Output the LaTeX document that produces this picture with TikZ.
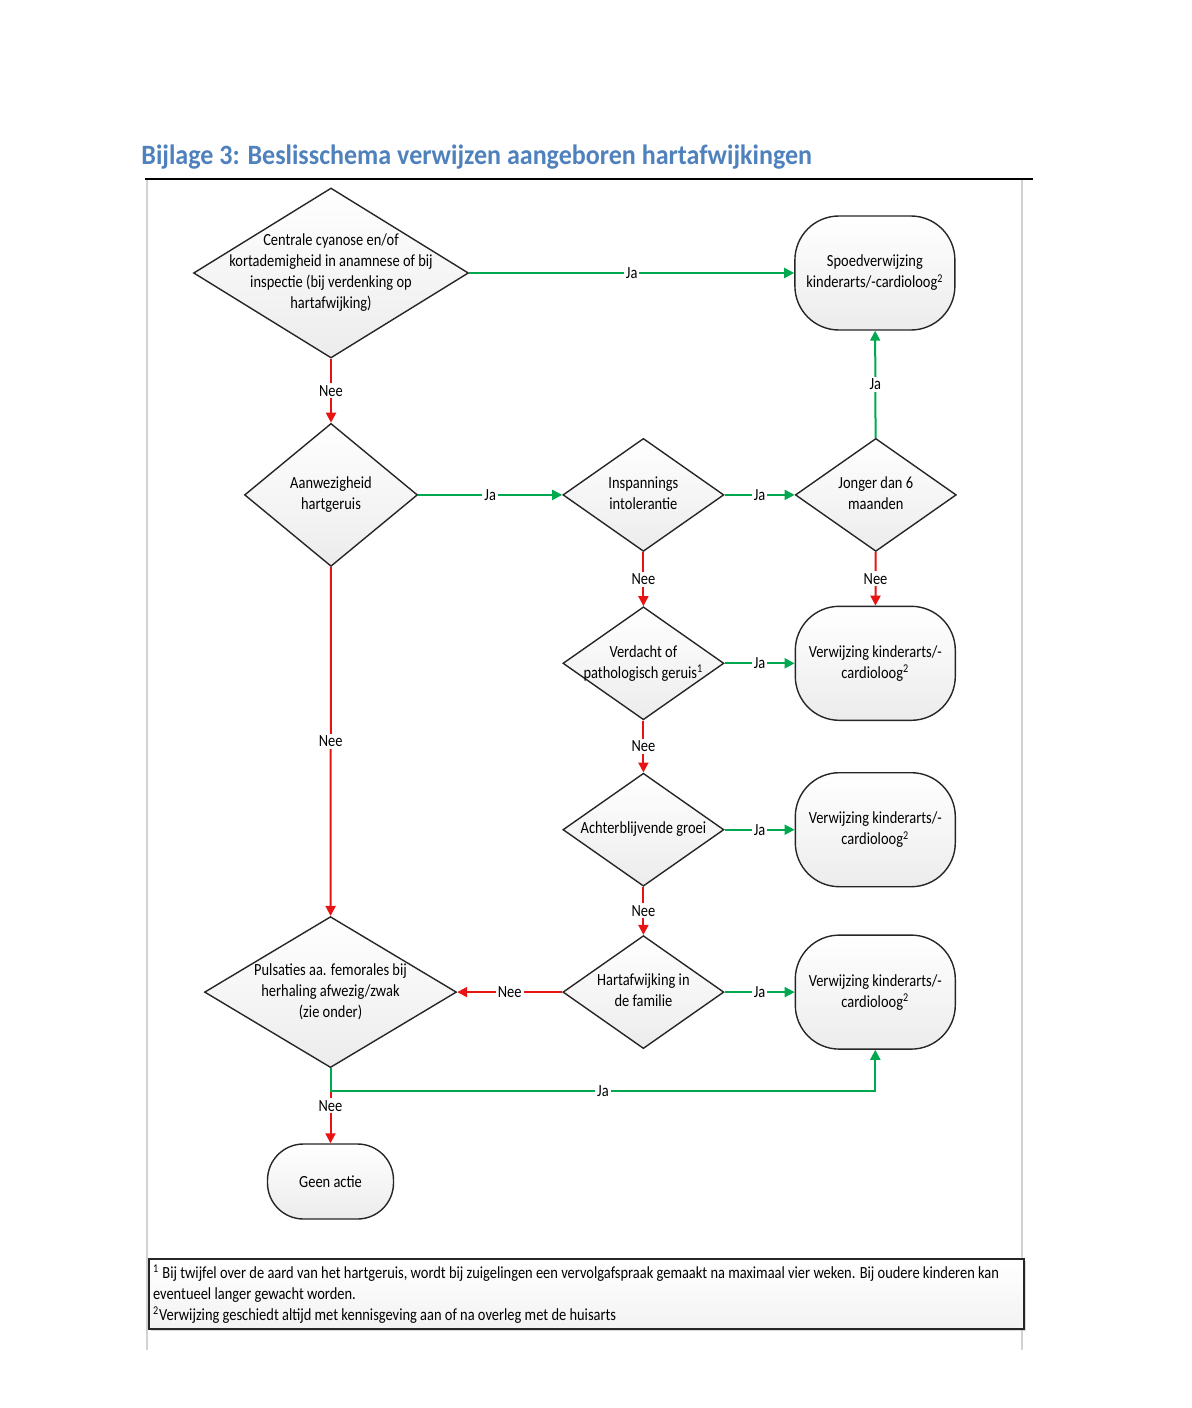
\documentclass[tikz,border=0pt]{standalone}
\usepackage{fontspec}
\setmainfont{Carlito}[FakeStretch=0.85]
\newfontfamily\titelfont{Carlito}[FakeStretch=0.93]
\usetikzlibrary{shapes.geometric,positioning,arrows.meta,shadows}
\definecolor{jagreen}{RGB}{0,168,80}
\definecolor{neered}{RGB}{232,20,20}
\definecolor{titleblue}{RGB}{79,129,189}
\newcommand{\dtekst}[1]{\makebox[0pt]{\begin{tabular}{@{}c@{}}#1\end{tabular}}}

\begin{document}
\begin{tikzpicture}[x = 0.5pt, y = -0.5pt,
        every node/.style = {font = \fontsize{8.5}{10.5}\selectfont},
        keuze/.style = {diamond, draw = gray!30!black, line width = 0.7pt, top color = white, bottom color = gray!15, inner sep = 0pt},
        klein/.style = {minimum width = 80.5pt, minimum height = 56.5pt},
        eind/.style = {rectangle, draw = gray!30!black, line width = 0.7pt, rounded corners = 22pt, minimum width = 80pt, minimum height = 57pt, align = center, top color = white, bottom color = gray!15, inner sep = 1pt},
        lab/.style = {fill = white, inner sep = 1pt},
        ja/.style = {draw = jagreen, line width = 1pt},
        nee/.style = {draw = neered, line width = 1pt},
        > = {Triangle[length = 5pt, width = 5pt]}]
        \useasboundingbox (0,0) rectangle (1191,1408);

        % kader
        \draw [gray!35, line width = 0.7pt] (147,180) -- (147,1350);
        \draw [gray!35, line width = 0.7pt] (1022,180) -- (1022,1350);
        \draw [black, line width = 1.2pt] (145,179) -- (1033,179);
        \node [anchor = west, inner sep = 0pt, text = titleblue, font = \fontsize{14}{16}\titelfont\bfseries] (titel) at (141,157) {Bijlage 3: Beslisschema verwijzen aangeboren hartafwijkingen};

        \node [keuze, minimum width = 137.5pt, minimum height = 85pt] (cyan) at (331,273) {\dtekst{Centrale cyanose en/of\\kortademigheid in anamnese of bij\\inspectie (bij verdenking op\\hartafwijking)}};
        \node [eind] (spoed) [right = 162.5pt of cyan] {Spoedverwijzing\\kinderarts/-cardioloog\textsuperscript{2}};
        \node [keuze, minimum width = 86.5pt, minimum height = 71.5pt] (geruis) [below = 32pt of cyan] {\dtekst{Aanwezigheid\\hartgeruis}};
        \node [keuze, klein] (inspan) [right = 72pt of geruis] {\dtekst{Inspannings\\intolerantie}};
        \node [keuze, klein] (jonger) [right = 35pt of inspan] {\dtekst{Jonger dan 6\\maanden}};
        \node [keuze, klein] (patho) [below = 27pt of inspan] {\dtekst{Verdacht of\\pathologisch geruis\textsuperscript{1}}};
        \node [eind] (verw1) [right = 35pt of patho] {Verwijzing kinderarts/-\\cardioloog\textsuperscript{2}};
        \node [keuze, klein] (groei) [below = 26pt of patho] {\dtekst{Achterblijvende groei}};
        \node [eind] (verw2) [right = 35pt of groei] {Verwijzing kinderarts/-\\cardioloog\textsuperscript{2}};
        \node [keuze, klein] (familie) [below = 24pt of groei] {\dtekst{Hartafwijking in\\de familie}};
        \node [eind] (verw3) [right = 35pt of familie] {Verwijzing kinderarts/-\\cardioloog\textsuperscript{2}};
        \node [keuze, minimum width = 126pt, minimum height = 75.5pt] (pulsatie) [left = 52.5pt of familie] {\dtekst{Pulsaties aa. femorales bij\\herhaling afwezig/zwak\\(zie onder)}};
        \node [eind, minimum width = 63pt, minimum height = 37.5pt, rounded corners = 18pt] (geen) [below = 37.5pt of pulsatie] {Geen actie};
        \coordinate (hoek) at ([yshift = -11.5pt] pulsatie.south);

        \path[->]
            (cyan) edge [ja] node [lab] {Ja} (spoed)
                edge [nee] node [lab] {Nee} (geruis)
            (geruis) edge [ja] node [lab] {Ja} (inspan)
                edge [nee] node [lab] {Nee} (pulsatie)
            (inspan) edge [ja] node [lab] {Ja} (jonger)
                edge [nee] node [lab] {Nee} (patho)
            (jonger) edge [ja] node [lab] {Ja} (spoed)
                edge [nee] node [lab] {Nee} (verw1)
            (patho) edge [ja] node [lab] {Ja} (verw1)
                edge [nee] node [lab] {Nee} (groei)
            (groei) edge [ja] node [lab] {Ja} (verw2)
                edge [nee] node [lab] {Nee} (familie)
            (familie) edge [ja] node [lab] {Ja} (verw3)
                edge [nee] node [lab] {Nee} (pulsatie)
            (pulsatie) edge [nee] node [lab] {Nee} (geen);
        \draw [ja, ->] (pulsatie.south) -- (hoek) -| node [lab, pos = 0.25] {Ja} (verw3.south);

        % voetnoten
        \node [draw = gray!30!black, line width = 1pt, top color = white, bottom color = gray!10, drop shadow = {opacity = 0.3, shadow xshift = 1pt, shadow yshift = -1pt}, anchor = north west, text width = 433.5pt, minimum height = 35pt, align = flush left, inner xsep = 2pt, inner ysep = 2pt] (noten) at (148,1258) {\textsuperscript{1} Bij twijfel over de aard van het hartgeruis, wordt bij zuigelingen een vervolgafspraak gemaakt na maximaal vier weken. Bij oudere kinderen kan\\eventueel langer gewacht worden.\\\textsuperscript{2}Verwijzing geschiedt altijd met kennisgeving aan of na overleg met de huisarts};
\end{tikzpicture}
\end{document}
